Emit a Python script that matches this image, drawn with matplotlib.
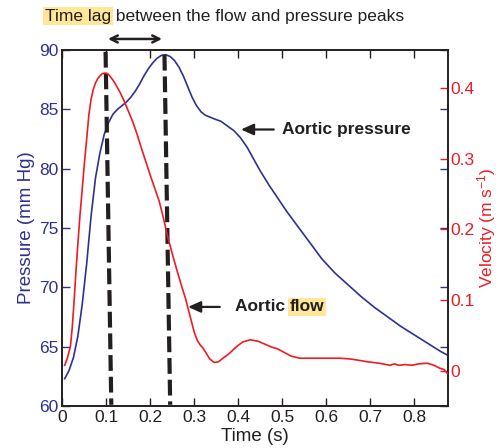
import matplotlib.pyplot as plt
import numpy as np

plt.rcParams['font.family'] = ['Liberation Sans', 'DejaVu Sans']
plt.rcParams['mathtext.default'] = 'regular'

# данные
t_p = [0.005, 0.015, 0.025, 0.035, 0.045, 0.055, 0.065, 0.075, 0.085, 0.095,
       0.105, 0.115, 0.125, 0.135, 0.145, 0.155, 0.165, 0.175, 0.185, 0.195,
       0.205, 0.215, 0.225, 0.235, 0.245, 0.255, 0.265, 0.275, 0.285, 0.295,
       0.305, 0.315, 0.325, 0.335, 0.345, 0.360, 0.375, 0.390, 0.405, 0.420,
       0.435, 0.450, 0.470, 0.490, 0.510, 0.530, 0.550, 0.570, 0.590, 0.620,
       0.650, 0.680, 0.710, 0.740, 0.770, 0.800, 0.830, 0.860, 0.875]
pressure = [62.3, 63.0, 64.1, 65.9, 68.6, 72.0, 76.0, 79.2, 81.3, 82.9,
            83.9, 84.6, 85.0, 85.3, 85.6, 86.0, 86.5, 87.1, 87.8, 88.4,
            88.9, 89.3, 89.55, 89.6, 89.45, 89.1, 88.55, 87.8, 86.9, 86.0,
            85.3, 84.8, 84.5, 84.35, 84.2, 84.0, 83.6, 83.2, 82.6, 81.8,
            80.8, 79.8, 78.6, 77.5, 76.4, 75.4, 74.4, 73.4, 72.4, 71.2,
            70.2, 69.2, 68.3, 67.5, 66.7, 66.0, 65.3, 64.6, 64.3]

t_v = [0.005, 0.012, 0.018, 0.022, 0.026, 0.030, 0.035, 0.040, 0.045, 0.050,
       0.055, 0.060, 0.065, 0.070, 0.075, 0.080, 0.085, 0.090, 0.095, 0.100,
       0.105, 0.110, 0.115, 0.120, 0.130, 0.140, 0.150, 0.160, 0.170, 0.180,
       0.190, 0.200, 0.210, 0.220, 0.230, 0.240, 0.250, 0.260, 0.270, 0.280,
       0.290, 0.300, 0.307, 0.313, 0.320, 0.327, 0.335, 0.345, 0.355, 0.365,
       0.380, 0.395, 0.410, 0.427, 0.445, 0.460, 0.475, 0.490, 0.505, 0.520,
       0.540, 0.570, 0.600, 0.630, 0.654, 0.675, 0.693, 0.720, 0.745, 0.755,
       0.765, 0.780, 0.795, 0.810, 0.830, 0.845, 0.858, 0.868, 0.875]
velocity = [0.008, 0.020, 0.035, 0.060, 0.095, 0.135, 0.180, 0.222, 0.258, 0.295,
            0.328, 0.362, 0.384, 0.398, 0.407, 0.413, 0.417, 0.420, 0.421, 0.421,
            0.419, 0.415, 0.411, 0.406, 0.395, 0.382, 0.367, 0.352, 0.334, 0.314,
            0.295, 0.276, 0.258, 0.240, 0.215, 0.188, 0.165, 0.143, 0.122, 0.102,
            0.078, 0.054, 0.043, 0.037, 0.032, 0.025, 0.017, 0.012, 0.013, 0.018,
            0.025, 0.034, 0.041, 0.044, 0.042, 0.038, 0.034, 0.031, 0.026, 0.021,
            0.018, 0.018, 0.018, 0.018, 0.017, 0.015, 0.013, 0.011, 0.008, 0.010,
            0.008, 0.009, 0.008, 0.010, 0.011, 0.008, 0.004, 0.002, -0.003]

# пики (пунктир): верх и низ линии
lag_top_t = [0.098, 0.232]
lag_top_p = [89.85, 89.6]
lag_bottom_t = [0.111, 0.245]

x_ticks = [0, 0.1, 0.2, 0.3, 0.4, 0.5, 0.6, 0.7, 0.8]
x_labels = ['0', '0.1', '0.2', '0.3', '0.4', '0.5', '0.6', '0.7', '0.8']
p_ticks = [60, 65, 70, 75, 80, 85, 90]
v_ticks = [0, 0.1, 0.2, 0.3, 0.4]
v_labels = ['0', '0.1', '0.2', '0.3', '0.4']

blue = '#2E3192'
red = '#ED1C24'
dark = '#231F20'
hl = '#FFE699'

fig = plt.figure(figsize=(4.98, 4.48), dpi=100)
ax = fig.add_axes([0.1255, 0.0938, 0.7741, 0.7946])
ax2 = ax.twinx()

ax.plot(t_p, pressure, color=blue, lw=1.2, zorder=3)
ax2.plot(t_v, velocity, color=red, lw=1.2, zorder=3)

ax.set_xlim(0, 0.877)
ax.set_ylim(60, 90)
ax2.set_ylim(-0.0495, 0.4537)

ax.set_xticks(x_ticks)
ax.set_xticklabels(x_labels)
ax.set_yticks(p_ticks)
ax2.set_yticks(v_ticks)
ax2.set_yticklabels(v_labels)

ax.tick_params(axis='x', direction='in', top=True, length=6, width=1,
               color=dark, labelsize=12.5, pad=3, labelcolor=dark)
ax.tick_params(axis='y', direction='in', right=True, length=6, width=1,
               color=blue, labelsize=12.5, pad=3, labelcolor=blue)
ax2.tick_params(axis='y', direction='in', length=6, width=1,
                color=red, labelsize=12.5, pad=2, labelcolor=red)
for a in (ax, ax2):
    for s in a.spines.values():
        s.set_linewidth(1.2)
        s.set_color(dark)

ax.set_xlabel('Time (s)', fontsize=13.5, color=dark, labelpad=2)
ax.set_ylabel('Pressure (mm Hg)', fontsize=13.5, color=blue, labelpad=3)
ax2.set_ylabel('Velocity (m s$^{-1}$)', fontsize=12.5, color=red, labelpad=0)

# пунктирные линии пиков
for i in range(2):
    ax.plot([lag_top_t[i], lag_bottom_t[i]], [lag_top_p[i], 60.1],
            color=dark, lw=3, dashes=(3.8, 1.4), zorder=4, clip_on=False)

# стрелка "time lag"
ax.annotate('', xy=(0.2264, 1.031), xytext=(0.1035, 1.031),
            xycoords=('data', 'axes fraction'),
            arrowprops=dict(arrowstyle='<->,head_length=0.5,head_width=0.25',
                            color=dark, lw=1.8, shrinkA=0, shrinkB=0))

# заголовок
t1 = fig.text(45 / 498, 1 - 16 / 448, 'Time lag', fontsize=12.5, color=dark,
              va='center', ha='left',
              bbox=dict(boxstyle='square,pad=0.1', fc=hl, ec='none'))
ax.annotate(' between the flow and pressure peaks', xy=(1, 0), xycoords=t1,
            va='bottom', ha='left', fontsize=12.5, color=dark)

# подписи кривых
ax.annotate('Aortic pressure', xy=(0.406, 83.3), xytext=(0.4995, 83.3),
            va='center', ha='left', fontsize=12.5, fontweight='bold', color=dark,
            arrowprops=dict(arrowstyle='-|>,head_length=0.6,head_width=0.27',
                            color=dark, lw=1.6, shrinkA=4, shrinkB=0))
t2 = ax2.annotate('Aortic ', xy=(0.2856, 0.0905), xytext=(0.3925, 0.0905),
                  va='center', ha='left', fontsize=12.5, fontweight='bold', color=dark,
                  arrowprops=dict(arrowstyle='-|>,head_length=0.6,head_width=0.27',
                                  color=dark, lw=1.6, shrinkA=9, shrinkB=0))
ax2.annotate('flow', xy=(1, 0), xycoords=t2, va='bottom', ha='left',
             fontsize=12.5, fontweight='bold', color=dark,
             bbox=dict(boxstyle='square,pad=0.1', fc=hl, ec='none'))

plt.savefig('out.png', dpi=100)
